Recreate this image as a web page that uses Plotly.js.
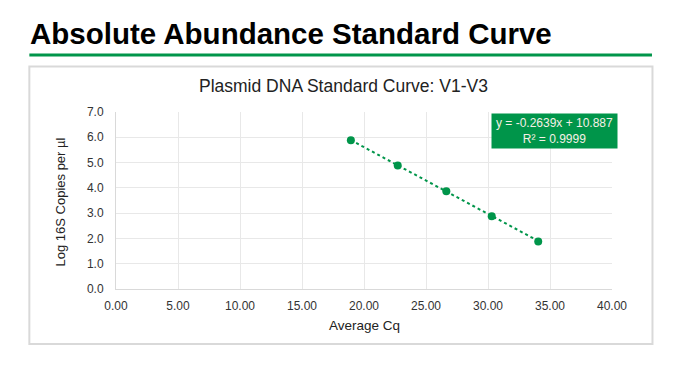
<!DOCTYPE html>
<html>
<head>
<meta charset="utf-8">
<script src="https://cdn.plot.ly/plotly-3.0.1.min.js"></script>
<style>
html,body{margin:0;padding:0;background:#fff;}
#chart{width:682px;height:370px;}
</style>
</head>
<body>
<div id="chart"></div>
<script>
// Data
var avgCq = [18.94, 22.72, 26.64, 30.30, 34.05];
var logCopies = [5.88, 4.88, 3.87, 2.88, 1.88];
var fitSlope = -0.2639;
var fitIntercept = 10.887;
var fitR2 = 0.9999;
var pageTitle = "Absolute Abundance Standard Curve";
var chartTitle = "Plasmid DNA Standard Curve: V1-V3";
var xTitle = "Average Cq";
var yTitle = "Log 16S Copies per µl";

// Trendline from regression coefficients across data range
var xMin = Math.min.apply(null, avgCq), xMax = Math.max.apply(null, avgCq);
var trendX = [xMin, xMax];
var trendY = trendX.map(function(x){ return fitSlope * x + fitIntercept; });

var green = '#00954a';
var FONT = 'Liberation Sans, Arial, sans-serif';

// pixel -> paper helpers (plot area: x 115.7..612, y 111.7..289)
var L = 115.7, R = 612, T = 111.7, B = 289;
function px(x){ return (x - L) / (R - L); }
function py(y){ return (B - y) / (B - T); }

var traces = [
  {x: trendX, y: trendY, mode: 'lines', line: {color: green, width: 2, dash: 'dot'}, hoverinfo: 'skip', showlegend: false},
  {x: avgCq, y: logCopies, mode: 'markers', marker: {color: green, size: 8}, showlegend: false}
];

var layout = {
  width: 682, height: 370,
  margin: {l: L, r: 682 - R, t: T, b: 370 - B, pad: 0},
  paper_bgcolor: '#fff', plot_bgcolor: '#fff',
  font: {family: FONT, color: '#333'},
  showlegend: false,
  xaxis: {range: [0, 40], dtick: 5, tick0: 0, tickformat: '.2f', showgrid: true, gridcolor: '#e8e8e8', gridwidth: 1,
    zeroline: false, showline: true, linecolor: '#d9d9d9', ticks: '', ticklabelstandoff: 6,
    tickfont: {size: 12, color: '#333'}, fixedrange: true},
  yaxis: {range: [0, 7], dtick: 1, tick0: 0, tickformat: '.1f', showgrid: true, gridcolor: '#e8e8e8', gridwidth: 1,
    zeroline: false, showline: true, linecolor: '#d9d9d9', ticks: '', ticklabelstandoff: 9,
    tickfont: {size: 12, color: '#333'}, fixedrange: true},
  shapes: [
    {type: 'rect', xref: 'paper', yref: 'paper', x0: px(29), x1: px(652.5), y0: py(344), y1: py(66),
     line: {color: '#d9d9d9', width: 2}, fillcolor: 'rgba(0,0,0,0)', layer: 'below'},
    {type: 'line', xref: 'paper', yref: 'paper', x0: px(29), x1: px(652), y0: py(54.7), y1: py(54.7),
     line: {color: green, width: 3}}
  ],
  annotations: [
    {text: '<b>' + pageTitle + '</b>', xref: 'paper', yref: 'paper', x: px(28), y: py(33), xanchor: 'left', yanchor: 'middle',
     showarrow: false, font: {family: FONT, size: 29.5, color: '#000'}},
    {text: chartTitle, xref: 'paper', yref: 'paper', x: px(343), y: py(86), xanchor: 'center', yanchor: 'middle',
     showarrow: false, font: {family: FONT, size: 17.5, color: '#222'}},
    {text: xTitle, xref: 'paper', yref: 'paper', x: px(364), y: py(326), xanchor: 'center', yanchor: 'middle',
     showarrow: false, font: {family: FONT, size: 13.5, color: '#222'}},
    {text: yTitle, xref: 'paper', yref: 'paper', x: px(60), y: py(202), xanchor: 'center', yanchor: 'middle', textangle: -90,
     showarrow: false, font: {family: FONT, size: 13, color: '#222'}},
    {text: 'y = ' + fitSlope + 'x + ' + fitIntercept + '<br>R² = ' + fitR2.toFixed(4), xref: 'paper', yref: 'paper',
     x: px(554.5), y: py(131), xanchor: 'center', yanchor: 'middle', showarrow: false, align: 'center',
     bgcolor: green, borderpad: 2, width: 121, font: {family: FONT, size: 12, color: '#f5f0e6'}}
  ]
};

Plotly.newPlot('chart', traces, layout, {displayModeBar: false, staticPlot: true});
</script>
</body>
</html>
